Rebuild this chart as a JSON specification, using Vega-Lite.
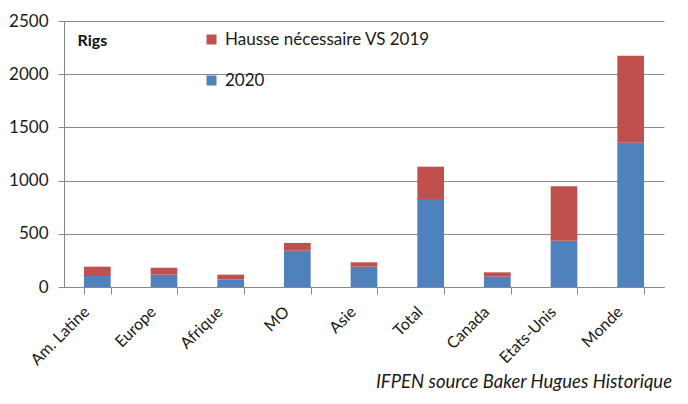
{
  "$schema": "https://vega.github.io/schema/vega-lite/v6.json",
  "autosize": "none",
  "width": 600,
  "height": 266,
  "padding": {"left": 64, "top": 21, "right": 24, "bottom": 117},
  "background": "white",
  "config": {
    "font": "Lato",
    "view": {"stroke": null},
    "axis": {"labelColor": "#1a1a1a", "domainColor": "#878787", "tickColor": "#878787", "gridColor": "#878787"}
  },
  "title": {
    "text": "IFPEN source Baker Hugues Historique",
    "orient": "bottom",
    "anchor": "end",
    "font": "Lato",
    "fontSize": 18.5,
    "fontStyle": "italic",
    "fontWeight": "normal",
    "color": "#1a1a1a",
    "offset": 5,
    "dx": 8
  },
  "data": {
    "values": [
      {"region": "Am. Latine", "serie": "2020", "rigs": 103},
      {"region": "Am. Latine", "serie": "Hausse nécessaire VS 2019", "rigs": 88},
      {"region": "Europe", "serie": "2020", "rigs": 116},
      {"region": "Europe", "serie": "Hausse nécessaire VS 2019", "rigs": 65},
      {"region": "Afrique", "serie": "2020", "rigs": 72},
      {"region": "Afrique", "serie": "Hausse nécessaire VS 2019", "rigs": 44},
      {"region": "MO", "serie": "2020", "rigs": 341},
      {"region": "MO", "serie": "Hausse nécessaire VS 2019", "rigs": 73},
      {"region": "Asie", "serie": "2020", "rigs": 191},
      {"region": "Asie", "serie": "Hausse nécessaire VS 2019", "rigs": 41},
      {"region": "Total", "serie": "2020", "rigs": 827},
      {"region": "Total", "serie": "Hausse nécessaire VS 2019", "rigs": 304},
      {"region": "Canada", "serie": "2020", "rigs": 97},
      {"region": "Canada", "serie": "Hausse nécessaire VS 2019", "rigs": 41},
      {"region": "Etats-Unis", "serie": "2020", "rigs": 435},
      {"region": "Etats-Unis", "serie": "Hausse nécessaire VS 2019", "rigs": 511},
      {"region": "Monde", "serie": "2020", "rigs": 1356},
      {"region": "Monde", "serie": "Hausse nécessaire VS 2019", "rigs": 818}
    ]
  },
  "mark": {"type": "bar"},
  "encoding": {
    "x": {
      "field": "region",
      "type": "nominal",
      "sort": null,
      "scale": {"paddingInner": 0.6, "paddingOuter": 0.3},
      "axis": {
        "title": null,
        "tickBand": "extent",
        "tickSize": 7,
        "labelAngle": -45,
        "labelAlign": "right",
        "labelBaseline": "middle",
        "labelPadding": 15,
        "labelOffset": -11,
        "labelFontSize": 16,
        "labelLimit": 0,
        "grid": false
      }
    },
    "y": {
      "field": "rigs",
      "type": "quantitative",
      "stack": "zero",
      "scale": {"domain": [0, 2500], "nice": false},
      "axis": {
        "values": [0, 500, 1000, 1500, 2000, 2500],
        "format": "d",
        "title": "Rigs",
        "titleAngle": 0,
        "titleAlign": "left",
        "titleBaseline": "middle",
        "titleX": 13,
        "titleY": 19,
        "titleFontSize": 16,
        "titleFontWeight": "bold",
        "titleColor": "#111111",
        "tickSize": 6,
        "labelPadding": 10,
        "labelFontSize": 17,
        "grid": true
      }
    },
    "color": {
      "field": "serie",
      "type": "nominal",
      "scale": {"domain": ["Hausse nécessaire VS 2019", "2020"], "range": ["#C0504D", "#4F81BD"]},
      "legend": {
        "title": null,
        "orient": "none",
        "legendX": 139,
        "legendY": 10,
        "padding": 0,
        "symbolType": "square",
        "symbolSize": 100,
        "symbolStrokeWidth": 0,
        "labelFontSize": 17,
        "labelLimit": 0,
        "labelColor": "#1a1a1a",
        "labelOffset": 5,
        "rowPadding": 23
      }
    },
    "order": {"field": "serie", "sort": "ascending"}
  }
}
